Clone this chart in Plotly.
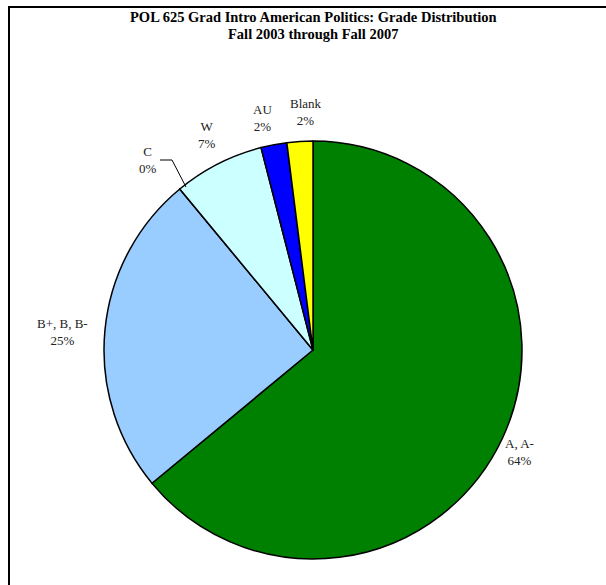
import plotly.graph_objects as go

categories = ["A, A-", "B+, B, B-", "C", "W", "AU", "Blank"]
percents = [64, 25, 0, 7, 2, 2]
colors = ["#008000", "#99CCFF", "#FF8080", "#CCFFFF", "#0000FF", "#FFFF00"]
title_lines = ["POL 625 Grad Intro American Politics: Grade Distribution",
               "Fall 2003 through Fall 2007"]

W, H = 606, 585
# label centre positions in pixels (layout only)
label_px = [(519, 452), (62, 332), (148, 160), (207, 135), (262, 118), (306, 112)]
title_px_y = [17, 34]

cx, cy, r = 313, 350, 209

fig = go.Figure(go.Pie(
    labels=categories,
    values=percents,
    sort=False,
    direction="clockwise",
    rotation=0,
    marker=dict(colors=colors, line=dict(color="black", width=1.5)),
    textinfo="none",
    hoverinfo="label+percent",
    showlegend=False,
    domain=dict(x=[(cx - r) / W, (cx + r) / W],
                y=[(H - cy - r) / H, (H - cy + r) / H]),
))

annotations = []
for (lab, p, (px, py)) in zip(categories, percents, label_px):
    annotations.append(dict(
        text=f"{lab}<br>{p}%",
        x=px / W, y=1 - py / H, xref="paper", yref="paper",
        xanchor="center", yanchor="middle", showarrow=False,
        font=dict(family="Liberation Serif", size=13, color="#222222"),
    ))

for line, py in zip(title_lines, title_px_y):
    annotations.append(dict(
        text="<b>" + line + "</b>",
        x=313 / W, y=1 - py / H, xref="paper", yref="paper",
        xanchor="center", yanchor="middle", showarrow=False,
        font=dict(family="Liberation Serif", size=14.5, color="black"),
    ))

shapes = [
    dict(type="rect", xref="paper", yref="paper",
         x0=9 / W, x1=1.05, y0=-0.05, y1=1 - 7 / H,
         line=dict(color="black", width=2), fillcolor="rgba(0,0,0,0)"),
    dict(type="path", xref="paper", yref="paper",
         path=f"M {160 / W},{1 - 160 / H} L {172 / W},{1 - 160 / H} L {186 / W},{1 - 187 / H}",
         line=dict(color="black", width=1)),
]

fig.update_layout(
    width=W, height=H,
    margin=dict(l=0, r=0, t=0, b=0),
    paper_bgcolor="white", plot_bgcolor="white",
    annotations=annotations,
    shapes=shapes,
)

fig.write_html("out.html")
